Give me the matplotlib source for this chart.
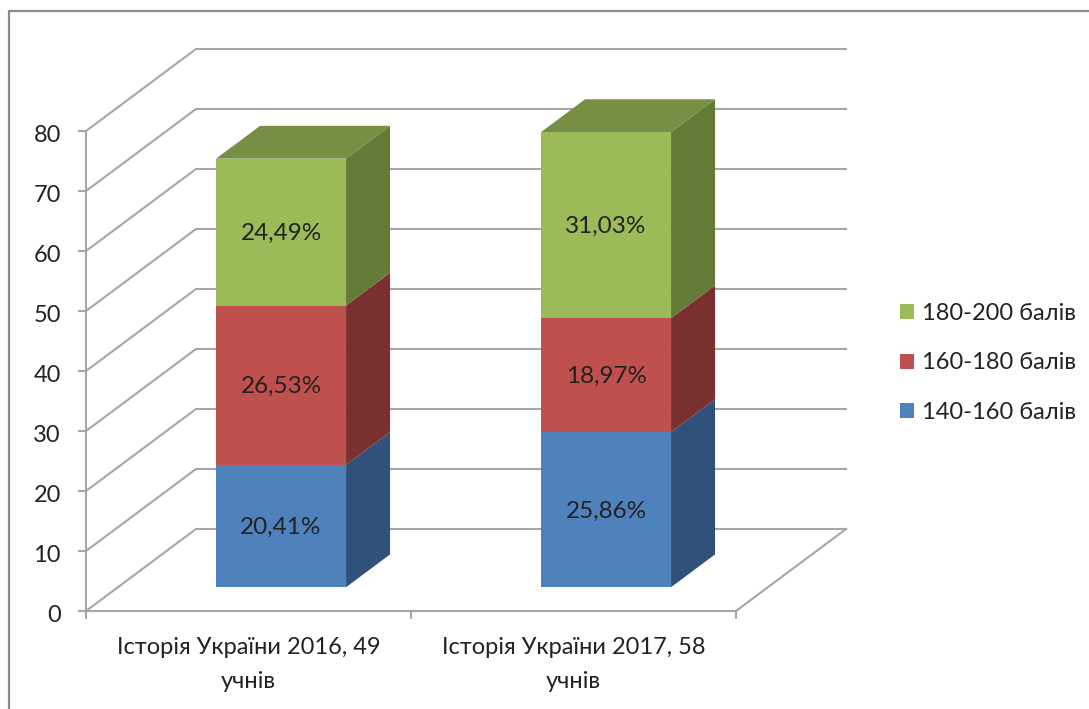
import matplotlib
matplotlib.use("Agg")
import matplotlib.pyplot as plt
from matplotlib.lines import Line2D
from matplotlib.patches import Patch, Polygon
from matplotlib.transforms import ScaledTranslation

plt.rcParams['font.family'] = ['Lato', 'Noto Sans', 'DejaVu Sans']

categories = ["Історія України 2016, 49\nучнів", "Історія України 2017, 58\nучнів"]
series_names = ["140-160 балів", "160-180 балів", "180-200 балів"]
share_140 = [20.41, 25.86]
share_160 = [26.53, 18.97]
share_180 = [24.49, 31.03]
y_ticks = [0, 10, 20, 30, 40, 50, 60, 70, 80]

front_colors = ["#4f81bd", "#c0504d", "#9bbb59"]
side_colors = ["#30527a", "#7a302e", "#647a37"]
top_color = "#768f45"
line_color = "#a6a6a6"
text_color = "#222222"

W, H = 1089, 709
# oblique depth of the floor, in axis units
depth_x = 110 / 325
depth_y = 82 / 6
bar_width = 0.4
bar_shift = 0.002
bar_d0 = 0.29
bar_d1 = 0.69

def project(x, y, d):
	return (x + d * depth_x, y + d * depth_y)

fig = plt.figure(figsize=(W / 100, H / 100), dpi=100)
ax = fig.add_axes([86 / W, (H - 611) / H, 650 / W, 480 / H])
ax.set_xlim(0, 2)
ax.set_ylim(0, 80)
ax.patch.set_visible(False)

for name in ["top", "right"]:
	ax.spines[name].set_visible(False)
for name in ["left", "bottom"]:
	ax.spines[name].set_color(line_color)
	ax.spines[name].set_linewidth(1.5)

# walls and floor
for v in y_ticks:
	pts = [project(0, v, 0), project(0, v, 1), project(2, v, 1)]
	ax.plot([p[0] for p in pts], [p[1] for p in pts], color=line_color, lw=1.5,
		clip_on=False, zorder=1, solid_joinstyle="miter")
pts = [project(2, 0, 1), project(2, 0, 0)]
ax.plot([p[0] for p in pts], [p[1] for p in pts], color=line_color, lw=1.5, clip_on=False, zorder=1)

# bars
for i in range(len(categories)):
	base = 0
	left = i + 0.5 + bar_shift - bar_width / 2
	right = i + 0.5 + bar_shift + bar_width / 2
	values = [share_140[i], share_160[i], share_180[i]]
	for j, v in enumerate(values):
		top = base + v
		front = [project(left, base, bar_d0), project(right, base, bar_d0),
			project(right, top, bar_d0), project(left, top, bar_d0)]
		side = [project(right, base, bar_d0), project(right, base, bar_d1),
			project(right, top, bar_d1), project(right, top, bar_d0)]
		ax.add_patch(Polygon(side, closed=True, fc=side_colors[j], ec="none", clip_on=False, zorder=3))
		ax.add_patch(Polygon(front, closed=True, fc=front_colors[j], ec="none", clip_on=False, zorder=4))
		cx, cy = project(i + 0.5 + bar_shift, base + v / 2, bar_d0)
		ax.annotate(f"{v:.2f}%".replace(".", ","), (cx, cy), xytext=(0, -1), textcoords="offset points",
			ha="center", va="center", fontsize=17.5, color=text_color, zorder=6)
		base = top
	lid = [project(left, base, bar_d0), project(right, base, bar_d0),
		project(right, base, bar_d1), project(left, base, bar_d1)]
	ax.add_patch(Polygon(lid, closed=True, fc=top_color, ec="none", clip_on=False, zorder=5))

ax.set_yticks(y_ticks)
ax.set_xticks([0, 1, 2])
ax.set_xticklabels([])
ax.set_xticks([0.5, 1.5], labels=categories, minor=True)
ax.tick_params(axis="y", which="major", length=6, width=1.5, color=line_color,
	labelsize=17, labelcolor=text_color, pad=12)
ax.tick_params(axis="x", which="major", length=6, width=1.5, color=line_color)
ax.tick_params(axis="x", which="minor", length=0, labelsize=17, labelcolor=text_color, pad=19)
for lab in ax.get_xticklabels(minor=True):
	lab.set_linespacing(1.75)
nudge = ScaledTranslation(0, -3 / 100, fig.dpi_scale_trans)
for lab in ax.get_yticklabels():
	lab.set_transform(lab.get_transform() + nudge)

handles = [Patch(fc=front_colors[j], ec="none", label=series_names[j]) for j in [2, 1, 0]]
fig.legend(handles=handles, loc="center left", bbox_to_anchor=(900 / W, (H - 363) / H),
	frameon=False, fontsize=17, handlelength=0.6, handleheight=0.6, handletextpad=0.34,
	labelspacing=1.2, labelcolor=text_color, borderpad=0, borderaxespad=0)

# chart frame, cut by the image edges
fig.add_artist(Line2D([9 / W, 9 / W, 1], [0, (H - 11) / H, (H - 11) / H], color="#8c8c8c", lw=1.6))

fig.savefig("out.png", dpi=100)
